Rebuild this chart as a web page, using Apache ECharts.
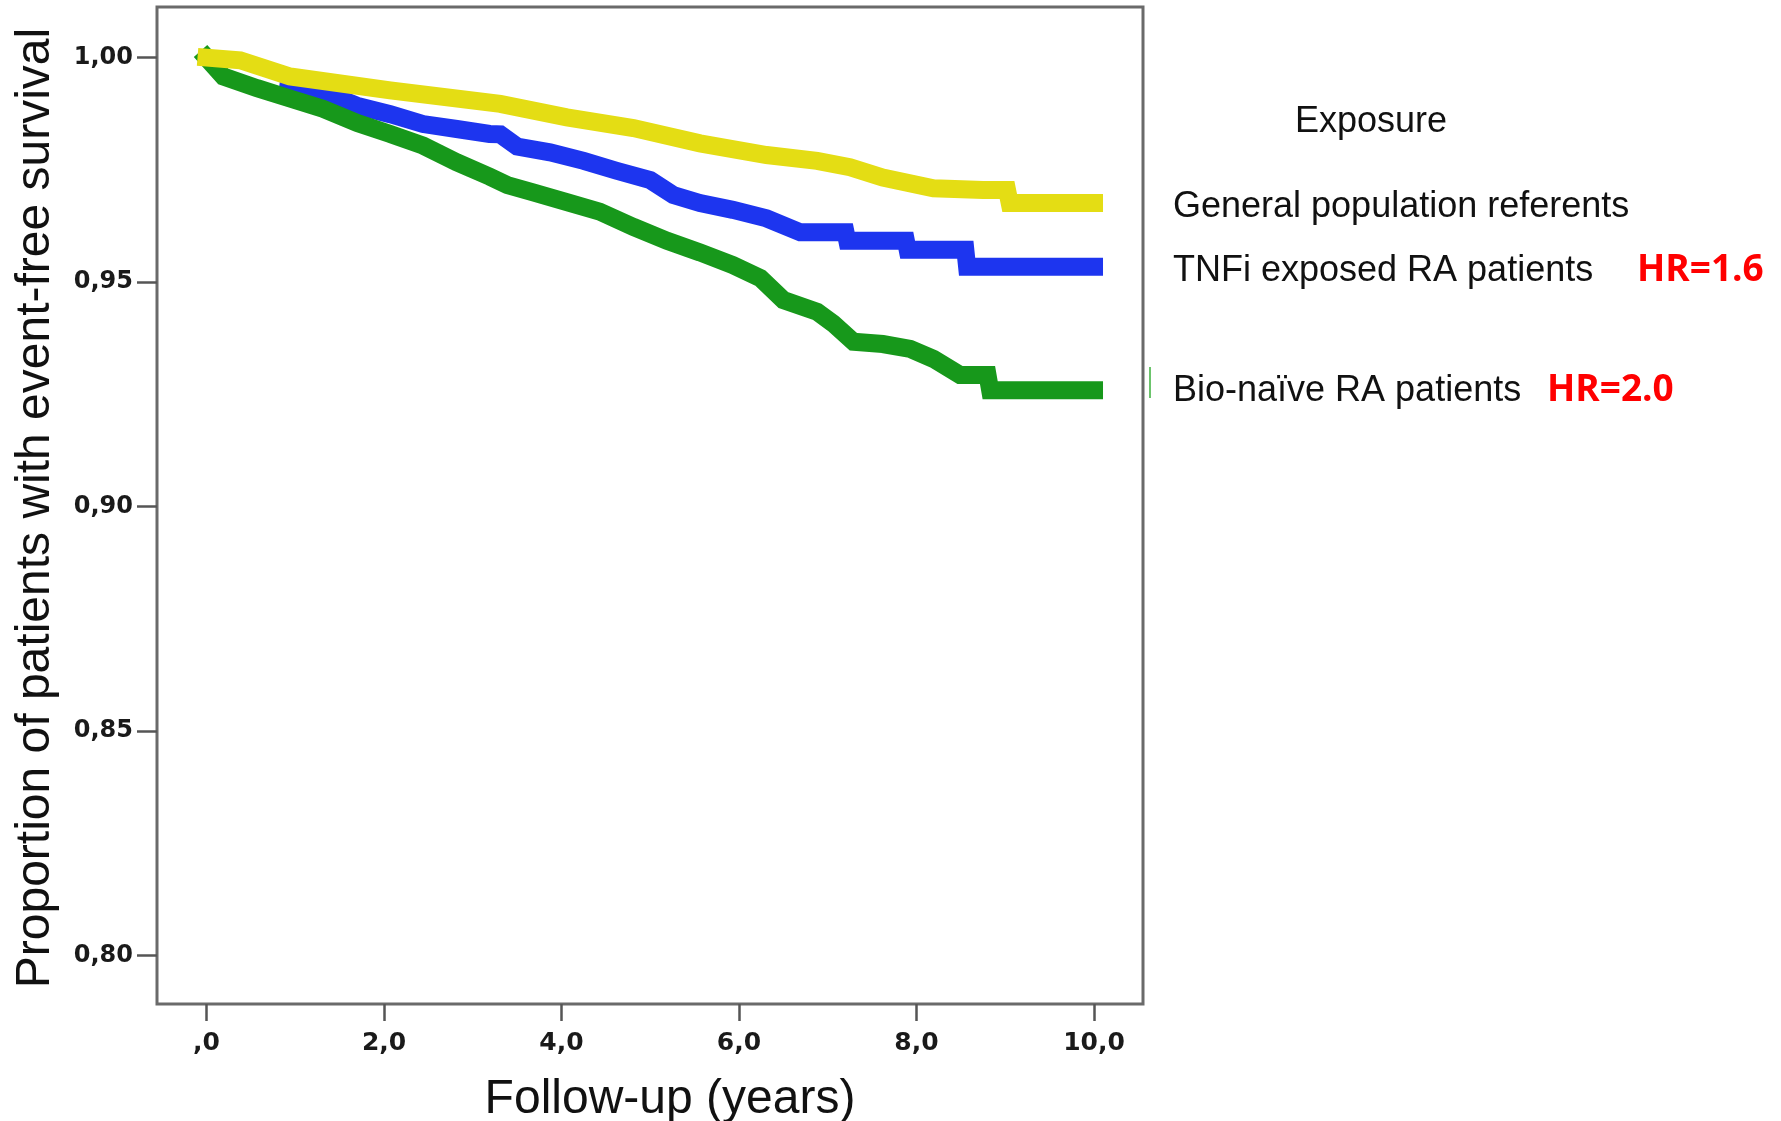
<!DOCTYPE html>
<html>
<head>
<meta charset="utf-8">
<title>Event-free survival by exposure</title>
<script src="https://cdn.jsdelivr.net/npm/echarts@6/dist/echarts.min.js"></script>
<style>
  html, body { margin: 0; padding: 0; background: #ffffff; }
  #chart { width: 1781px; height: 1121px; }
</style>
</head>
<body>
<div id="chart"></div>
<script>
// Kaplan-Meier estimates, follow-up time in years
const gpTime = [0, 0.38, 0.94, 2.07, 3.31, 4.06, 4.81, 5.56, 6.31, 6.88, 7.25, 7.62, 8.19, 8.75, 9.02, 9.05, 10.0];
const gpSurv = [1.0, 0.9994, 0.9958, 0.9927, 0.9897, 0.9867, 0.9843, 0.9809, 0.9783, 0.9770, 0.9756, 0.9733, 0.9709, 0.9705, 0.9705, 0.9676, 0.9676];

const tnfTime = [0.92, 1.31, 1.69, 2.07, 2.44, 2.82, 3.19, 3.31, 3.50, 3.87, 4.25, 4.62, 5.00, 5.26, 5.56, 5.93, 6.31, 6.69, 7.20, 7.22, 7.88, 7.90, 8.55, 8.57, 10.0];
const tnfSurv = [0.9934, 0.9924, 0.9893, 0.9874, 0.9852, 0.9841, 0.9830, 0.9829, 0.9802, 0.9789, 0.9770, 0.9748, 0.9727, 0.9694, 0.9676, 0.9661, 0.9642, 0.9611, 0.9611, 0.9592, 0.9592, 0.9572, 0.9572, 0.9534, 0.9534];

const naiveTime = [0, 0.19, 0.57, 0.94, 1.31, 1.70, 2.07, 2.44, 2.82, 3.19, 3.39, 3.68, 4.06, 4.43, 4.81, 5.19, 5.56, 5.93, 6.24, 6.50, 6.88, 7.06, 7.29, 7.62, 7.93, 8.19, 8.49, 8.80, 8.83, 10.0];
const naiveSurv = [1.0, 0.9958, 0.9932, 0.9909, 0.9886, 0.9854, 0.9830, 0.9804, 0.9767, 0.9735, 0.9716, 0.9700, 0.9678, 0.9657, 0.9623, 0.9592, 0.9566, 0.9538, 0.9509, 0.9460, 0.9434, 0.9408, 0.9367, 0.9362, 0.9351, 0.9329, 0.9293, 0.9293, 0.9259, 0.9259];

// Axis ticks and their printed labels (decimal comma)
const xTicks = [0, 2, 4, 6, 8, 10];
const xTickLabels = [',0', '2,0', '4,0', '6,0', '8,0', '10,0'];
const yTicks = [0.80, 0.85, 0.90, 0.95, 1.00];
const yTickLabels = ['0,80', '0,85', '0,90', '0,95', '1,00'];

// Legend entries and hazard ratios
const groupNames = ['General population referents', 'TNFi exposed RA patients', 'Bio-naïve RA patients'];
const hazardRatios = ['', 'HR=1.6', 'HR=2.0'];

const colors = { gp: '#e4dd14', tnf: '#1d35ef', naive: '#17981b' };

function pairs(t, s) { return t.map((v, i) => [v, s[i]]); }
function tickLabel(ticks, labels) {
  return function (v) {
    for (let i = 0; i < ticks.length; i++) {
      if (Math.abs(ticks[i] - v) < 1e-9) return labels[i];
    }
    return '';
  };
}

const chart = echarts.init(document.getElementById('chart'), null, { renderer: 'canvas' });

const lineBase = { width: 18, cap: 'square', join: 'miter' };
const textFont = '"Liberation Sans", Arial, sans-serif';

chart.setOption({
  animation: false,
  backgroundColor: '#ffffff',
  grid: {
    left: 157, right: 638, top: 7, bottom: 117,
    show: true, borderColor: '#6a6a6a', borderWidth: 3, backgroundColor: 'transparent'
  },
  xAxis: {
    type: 'value',
    min: -0.558, max: 10.552,
    axisLine: { show: false, onZero: false },
    splitLine: { show: false },
    axisTick: { show: true, customValues: xTicks, length: 17, lineStyle: { color: '#555', width: 2.5 } },
    axisLabel: { customValues: xTicks, margin: 27, formatter: tickLabel(xTicks, xTickLabels),
                 fontFamily: 'DejaVu Sans', fontWeight: 'bold', fontSize: 25, color: '#1a1a1a' }
  },
  yAxis: {
    type: 'value',
    min: 0.78922, max: 1.01127,
    axisLine: { show: false, onZero: false },
    splitLine: { show: false },
    axisTick: { show: true, customValues: yTicks, length: 20, lineStyle: { color: '#555', width: 2.5 } },
    axisLabel: { customValues: yTicks, margin: 24, formatter: tickLabel(yTicks, yTickLabels),
                 fontFamily: 'DejaVu Sans', fontWeight: 'bold', fontSize: 24, color: '#1a1a1a' }
  },
  series: [
    { name: groupNames[1], type: 'line', symbol: 'none', data: pairs(tnfTime, tnfSurv),
      lineStyle: Object.assign({ color: colors.tnf }, lineBase), itemStyle: { color: colors.tnf } },
    { name: groupNames[2], type: 'line', symbol: 'none', data: pairs(naiveTime, naiveSurv),
      lineStyle: Object.assign({ color: colors.naive }, lineBase), itemStyle: { color: colors.naive } },
    { name: groupNames[0], type: 'line', symbol: 'none', data: pairs(gpTime, gpSurv),
      lineStyle: Object.assign({ color: colors.gp }, lineBase), itemStyle: { color: colors.gp } }
  ],
  graphic: [
    { type: 'text', x: 36, y: 508, rotation: Math.PI / 2,
      style: { text: 'Proportion of patients with event-free survival',
               font: '48px ' + textFont, fill: '#111', align: 'center', verticalAlign: 'middle' } },
    { type: 'text', x: 670, y: 1100,
      style: { text: 'Follow-up (years)', font: '48px ' + textFont, fill: '#111', align: 'center', verticalAlign: 'middle' } },
    { type: 'text', x: 1295, y: 122,
      style: { text: 'Exposure', font: '36px ' + textFont, fill: '#111', align: 'left', verticalAlign: 'middle' } },
    { type: 'text', x: 1173, y: 207,
      style: { text: groupNames[0], font: '36px ' + textFont, fill: '#111', align: 'left', verticalAlign: 'middle' } },
    { type: 'text', x: 1173, y: 271,
      style: { text: groupNames[1], font: '36px ' + textFont, fill: '#111', align: 'left', verticalAlign: 'middle' } },
    { type: 'text', x: 1637, y: 270,
      style: { text: hazardRatios[1], font: 'bold 37px "Open Sans"', fill: '#ff0000', align: 'left', verticalAlign: 'middle' } },
    { type: 'text', x: 1173, y: 391,
      style: { text: groupNames[2], font: '36px ' + textFont, fill: '#111', align: 'left', verticalAlign: 'middle' } },
    { type: 'text', x: 1547, y: 390,
      style: { text: hazardRatios[2], font: 'bold 37px "Open Sans"', fill: '#ff0000', align: 'left', verticalAlign: 'middle' } },
    { type: 'line', shape: { x1: 1150, y1: 367, x2: 1150, y2: 398 },
      style: { stroke: '#6cc46c', lineWidth: 2 } }
  ]
});
</script>
</body>
</html>
